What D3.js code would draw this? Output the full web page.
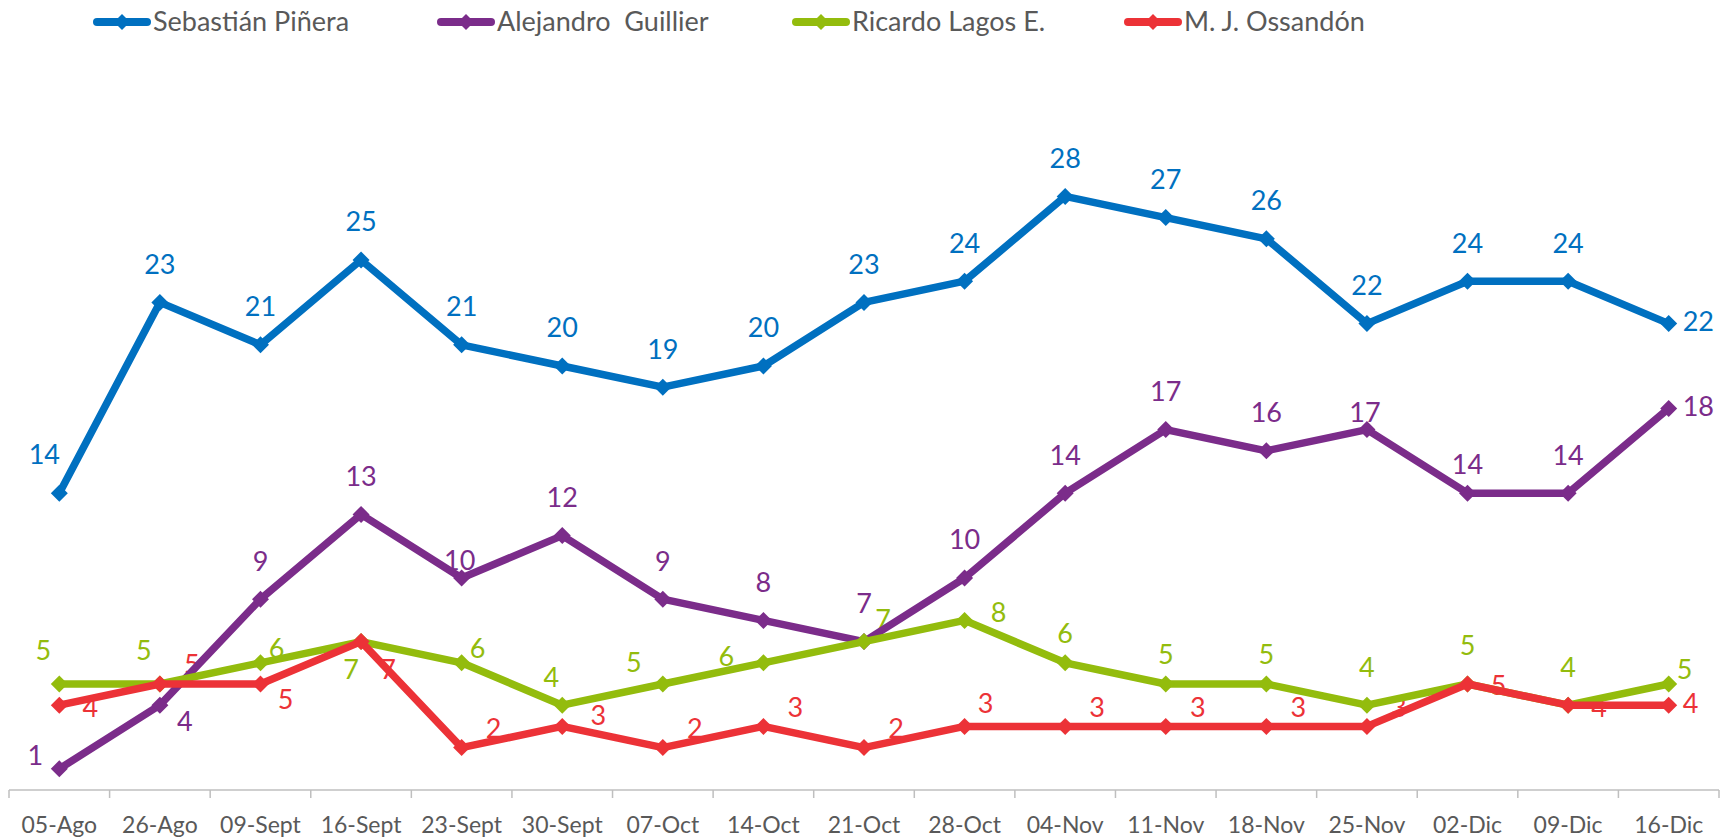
<!DOCTYPE html>
<html>
<head>
<meta charset="utf-8">
<script src="https://cdnjs.cloudflare.com/ajax/libs/d3/7.8.5/d3.min.js"></script>
<style>
  html, body { margin: 0; padding: 0; background: #ffffff; }
  svg { display: block; }
  text { font-family: Lato, "Open Sans", sans-serif; }
</style>
</head>
<body>
<svg id="chart" width="1731" height="838"></svg>
<script>
// ---------- DATA ----------
const categories = ["05-Ago","26-Ago","09-Sept","16-Sept","23-Sept","30-Sept","07-Oct","14-Oct","21-Oct","28-Oct","04-Nov","11-Nov","18-Nov","25-Nov","02-Dic","09-Dic","16-Dic"];
const seriesNames = ["Sebastián Piñera", "Alejandro  Guillier", "Ricardo Lagos E.", "M. J. Ossandón"];
const pinera   = [14, 23, 21, 25, 21, 20, 19, 20, 23, 24, 28, 27, 26, 22, 24, 24, 22];
const guillier = [1, 4, 9, 13, 10, 12, 9, 8, 7, 10, 14, 17, 16, 17, 14, 14, 18];
const lagos    = [5, 5, 6, 7, 6, 4, 5, 6, 7, 8, 6, 5, 5, 4, 5, 4, 5];
const ossandon = [4, 5, 5, 7, 2, 3, 2, 3, 2, 3, 3, 3, 3, 3, 5, 4, 4];

// label placement codes (where each data label sits relative to its point)
const pineraLbl   = ["ult","t","t","t","t","t","t","t","t","t","t","t","t","t","t","t","r"];
const guillierLbl = ["l","dr","t","t","ts","t","t","t","t","t","t","t","t","ts","tm","t","r"];
const lagosLbl    = ["ul","ul","ur","dl","ur","ulm","ulw","ll","ur2","fr","tm","tm","tm","t","t","t","ur"];
const ossandonLbl = ["rl","ru","dr","dr2","ru","rm","ru","ru","ru","ru2","ru","ru","ru","ru","rl","rl","r"];

// ---------- STYLE ----------
const colors = ["#0070C0", "#7B2C8A", "#93BC0D", "#EC3237"];
const placements = {
  t:   {dx: 0,   dy: -38, a: "middle"},
  tm:  {dx: 0,   dy: -29, a: "middle"},
  ts:  {dx: -2,  dy: -17, a: "middle"},
  r:   {dx: 14,  dy: -2,  a: "start"},
  rl:  {dx: 31,  dy: 2,   a: "middle"},
  ru:  {dx: 32,  dy: -19, a: "middle"},
  rm:  {dx: 36,  dy: -11, a: "middle"},
  ru2: {dx: 21,  dy: -23, a: "middle"},
  ul:  {dx: -16, dy: -33, a: "middle"},
  ult: {dx: -15, dy: -39, a: "middle"},
  ulm: {dx: -11, dy: -28, a: "middle"},
  ulw: {dx: -29, dy: -21, a: "middle"},
  l:   {dx: -24, dy: -13, a: "middle"},
  ll:  {dx: -37, dy: -6,  a: "middle"},
  dr:  {dx: 25,  dy: 16,  a: "middle"},
  dr2: {dx: 27,  dy: 28,  a: "middle"},
  dl:  {dx: -10, dy: 28,  a: "middle"},
  ur:  {dx: 16,  dy: -14, a: "middle"},
  ur2: {dx: 19,  dy: -22, a: "middle"},
  fr:  {dx: 34,  dy: -8,  a: "middle"}
};

const series = [
  {name: seriesNames[0], values: pinera,   lbl: pineraLbl,   color: colors[0]},
  {name: seriesNames[1], values: guillier, lbl: guillierLbl, color: colors[1]},
  {name: seriesNames[2], values: lagos,    lbl: lagosLbl,    color: colors[2]},
  {name: seriesNames[3], values: ossandon, lbl: ossandonLbl, color: colors[3]}
];

const svg = d3.select("#chart");
const x = d3.scaleBand().domain(categories).range([9, 1719]).padding(0);
const y = d3.scaleLinear().domain([0, 30]).range([790, 154]);
const cx = c => x(c) + x.bandwidth() / 2;

// ---------- AXIS ----------
const axisG = svg.append("g").attr("transform", `translate(0,${y(0)})`);
axisG.append("line")
  .attr("x1", x.range()[0]).attr("x2", x.range()[1])
  .attr("y1", 0).attr("y2", 0)
  .attr("stroke", "#BFBFBF").attr("stroke-width", 1.5);
const tickPos = categories.map(c => x(c)).concat([x.range()[1]]);
axisG.selectAll("line.tick").data(tickPos).enter().append("line")
  .attr("class", "tick")
  .attr("x1", d => d).attr("x2", d => d)
  .attr("y1", 0).attr("y2", 8)
  .attr("stroke", "#BFBFBF").attr("stroke-width", 1.5);
const axis = d3.axisBottom(x).tickSize(0).tickPadding(0);
const labG = svg.append("g").attr("transform", `translate(0,${y(0)})`).call(axis);
labG.select(".domain").remove();
labG.selectAll("text")
  .attr("y", 35).attr("dy", "0.35em")
  .attr("fill", "#595959")
  .style("font-size", "23px")
  .style("font-family", "Lato, 'Open Sans', sans-serif");

// ---------- LABELS (drawn beneath lines) ----------
const labelLayer = svg.append("g");
series.forEach(s => {
  labelLayer.selectAll(null).data(s.values).enter().append("text")
    .attr("x", (d, i) => cx(categories[i]) + placements[s.lbl[i]].dx)
    .attr("y", (d, i) => y(d) + placements[s.lbl[i]].dy)
    .attr("dy", "0.35em")
    .attr("text-anchor", (d, i) => placements[s.lbl[i]].a)
    .attr("fill", s.color)
    .style("font-size", "27px")
    .text(d => d);
});

// ---------- LINES & MARKERS ----------
const diamond = r => `M0,${-r}L${r},0L0,${r}L${-r},0Z`;
const line = d3.line().x((d, i) => cx(categories[i])).y(d => y(d));
series.forEach(s => {
  const g = svg.append("g");
  g.append("path").datum(s.values)
    .attr("d", line)
    .attr("fill", "none")
    .attr("stroke", s.color)
    .attr("stroke-width", 7.5)
    .attr("stroke-linejoin", "round")
    .attr("stroke-linecap", "round");
  g.selectAll(null).data(s.values).enter().append("path")
    .attr("d", diamond(8.5))
    .attr("transform", (d, i) => `translate(${cx(categories[i])},${y(d)})`)
    .attr("fill", s.color);
});

// ---------- LEGEND ----------
const legendX = [93, 437, 792, 1124];
const legY = 22;
series.forEach((s, i) => {
  const g = svg.append("g").attr("transform", `translate(${legendX[i]},${legY})`);
  g.append("line").attr("x1", 4).attr("x2", 54).attr("y1", 0).attr("y2", 0)
    .attr("stroke", s.color).attr("stroke-width", 8).attr("stroke-linecap", "round");
  g.append("path").attr("d", diamond(8)).attr("transform", "translate(29,0)").attr("fill", s.color);
  g.append("text").attr("x", 60).attr("y", 0).attr("dy", "0.35em")
    .attr("fill", "#595959").style("font-size", "27px")
    .style("white-space", "pre")
    .text(s.name);
});
</script>
</body>
</html>
